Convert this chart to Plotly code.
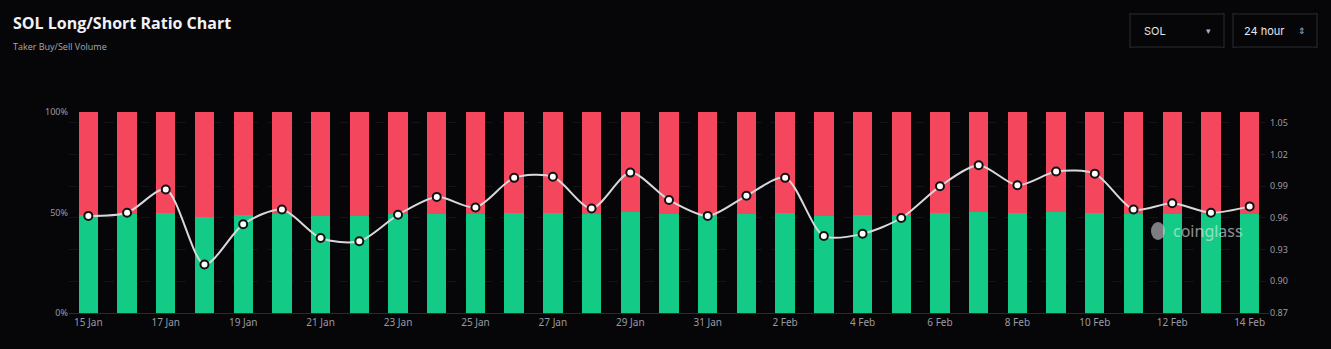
import plotly.graph_objects as go

dates = ["15 Jan", "16 Jan", "17 Jan", "18 Jan", "19 Jan", "20 Jan", "21 Jan", "22 Jan",
         "23 Jan", "24 Jan", "25 Jan", "26 Jan", "27 Jan", "28 Jan", "29 Jan", "30 Jan",
         "31 Jan", "1 Feb", "2 Feb", "3 Feb", "4 Feb", "5 Feb", "6 Feb", "7 Feb",
         "8 Feb", "9 Feb", "10 Feb", "11 Feb", "12 Feb", "13 Feb", "14 Feb"]

ratio = [0.962, 0.965, 0.987, 0.916, 0.954, 0.968, 0.941, 0.938,
         0.963, 0.980, 0.970, 0.998, 0.999, 0.969, 1.003, 0.977,
         0.962, 0.981, 0.998, 0.943, 0.945, 0.960, 0.990, 1.010,
         0.991, 1.004, 1.002, 0.968, 0.974, 0.965, 0.971]

long_pct = [49.0, 49.1, 49.7, 47.8, 48.8, 49.2, 48.5, 48.4,
            49.1, 49.5, 49.2, 50.0, 50.0, 49.2, 50.1, 49.4,
            49.0, 49.5, 50.0, 48.5, 48.6, 49.0, 49.7, 50.2,
            49.8, 50.1, 50.0, 49.2, 49.3, 49.1, 49.3]
short_pct = [round(100 - v, 1) for v in long_pct]

x_ticks = dates[::2]
left_ticks = [0, 50, 100]
left_labels = ["0%", "50%", "100%"]
right_ticks = [0.87, 0.90, 0.93, 0.96, 0.99, 1.02, 1.05]

GREEN = "#13CB86"
RED = "#F4475E"
BG = "#060609"
TICK = "#9a9aa2"

fig = go.Figure()
fig.add_trace(go.Bar(x=dates, y=long_pct, marker=dict(color=GREEN, line=dict(width=0)),
                     name="Long", width=0.5))
fig.add_trace(go.Bar(x=dates, y=short_pct, marker=dict(color=RED, line=dict(width=0)),
                     name="Short", width=0.5))
fig.add_trace(go.Scatter(x=dates, y=ratio, yaxis="y2", mode="lines+markers",
                         line=dict(color="#d8d8dc", width=2, shape="spline", smoothing=0.8),
                         marker=dict(size=8, color="#ffffff", line=dict(color="#111111", width=2)),
                         name="Ratio"))

fig.update_layout(
    width=1331, height=349,
    barmode="stack", bargap=0.5,
    paper_bgcolor=BG, plot_bgcolor=BG,
    showlegend=False,
    margin=dict(l=69, r=62, t=112, b=36),
    font=dict(family="Noto Sans, sans-serif", color=TICK, size=10),
    xaxis=dict(type="category", range=[-0.5, len(dates) - 0.5], autorange=False,
               tickmode="array", tickvals=x_ticks, ticktext=x_ticks,
               showgrid=False, showline=True, linecolor="#2a2a30", linewidth=1,
               ticks="", tickfont=dict(size=10, color=TICK), zeroline=False),
    yaxis=dict(range=[0, 100], tickvals=left_ticks, ticktext=left_labels,
               showgrid=False, zeroline=False, tickfont=dict(size=9, color=TICK), ticks=""),
    yaxis2=dict(overlaying="y", side="right", range=[0.87, 1.0604], tickvals=right_ticks,
                ticktext=["%.2f" % v for v in right_ticks],
                showgrid=True, gridcolor="#141418", griddash="dash", gridwidth=1,
                zeroline=False, tickfont=dict(size=9, color=TICK), ticks=""),
)

# pixel helpers (plot area: x 69..1269, y 112..313)
def px_x(x):
    return (x - 69) / 1200

def px_y(y):
    return 1 + (112 - y) / 201

# title and subtitle
fig.add_annotation(text="<b>SOL Long/Short Ratio Chart</b>", xref="paper", yref="paper",
                   x=0, y=1, xanchor="left", yanchor="middle", showarrow=False,
                   xshift=-58, yshift=89, font=dict(size=16, color="#f2f2f4", family="Open Sans, sans-serif"))
fig.add_annotation(text="Taker Buy/Sell Volume", xref="paper", yref="paper",
                   x=0, y=1, xanchor="left", yanchor="middle", showarrow=False,
                   xshift=-58, yshift=66, font=dict(size=9, color="#a8a8b0", family="Open Sans, sans-serif"))

# top-right controls
def rounded_box(x0, y0, x1, y1, r=5):
    return (f"M {x0+r},{y0} L {x1-r},{y0} Q {x1},{y0} {x1},{y0+r} L {x1},{y1-r} "
            f"Q {x1},{y1} {x1-r},{y1} L {x0+r},{y1} Q {x0},{y1} {x0},{y1-r} "
            f"L {x0},{y0+r} Q {x0},{y0} {x0+r},{y0} Z")

for (x0, x1) in [(1130, 1224), (1233, 1317)]:
    fig.add_shape(type="path", xref="paper", yref="paper",
                  path=rounded_box(px_x(x0), px_y(14), px_x(x1), px_y(47), 0.004),
                  line=dict(color="#2c2c33", width=1), fillcolor=BG, layer="above")

def px_ann(text, x, y, size=11, color="#e6e6ea", anchor="left", family="Inter, sans-serif"):
    fig.add_annotation(text=text, xref="paper", yref="paper",
                       x=px_x(x), y=px_y(y),
                       xanchor=anchor, yanchor="middle", showarrow=False,
                       font=dict(size=size, color=color, family=family))

px_ann("SOL", 1142, 31, 11)
px_ann("▾", 1208, 31, 9, "#b0b0b8", "center")
px_ann("24 hour", 1242, 31, 11)
px_ann("⇕", 1302, 31, 9, "#b0b0b8", "center")

# watermark
px_ann("coinglass", 1171, 231, 16, "rgba(235,235,240,0.6)", "left", "Noto Sans, sans-serif")
fig.add_shape(type="circle", xref="paper", yref="paper",
              x0=px_x(1151), x1=px_x(1165), y0=px_y(240), y1=px_y(222),
              line=dict(width=0), fillcolor="rgba(205,205,210,0.6)", layer="above")

fig.write_html("out.html")
